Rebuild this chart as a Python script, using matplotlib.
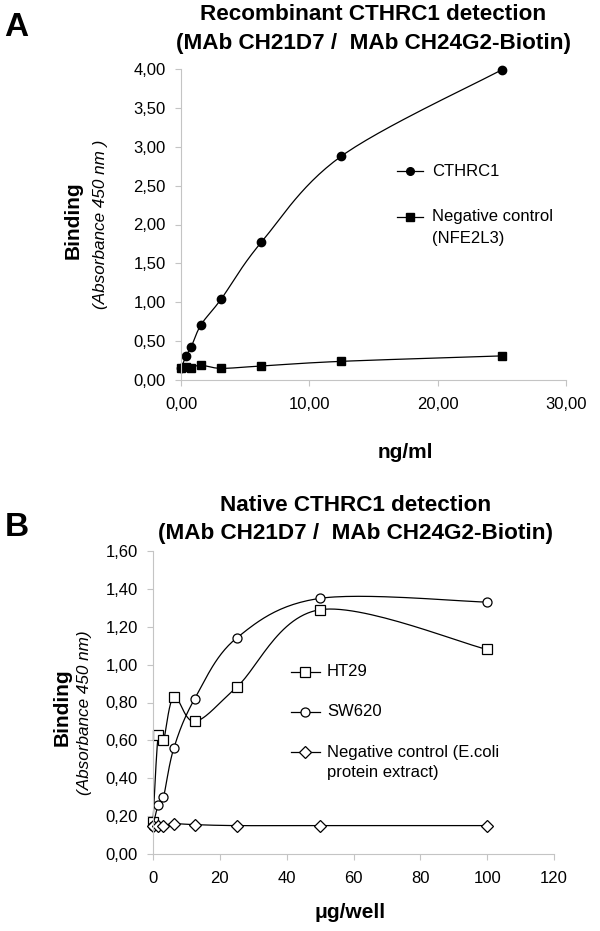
import numpy as np
import matplotlib.pyplot as plt
from matplotlib.ticker import FuncFormatter

plt.rcParams['font.family'] = ['Liberation Sans', 'DejaVu Sans']

# Panel A data (ng/ml vs absorbance)
conc_a = [0, 0.39, 0.78, 1.56, 3.125, 6.25, 12.5, 25]
cthrc1 = [0.15, 0.31, 0.42, 0.71, 1.04, 1.77, 2.88, 3.99]
neg_a = [0.15, 0.17, 0.16, 0.19, 0.15, 0.18, 0.24, 0.31]

# Panel B data (ug/well vs absorbance)
conc_b = [0, 1.5625, 3.125, 6.25, 12.5, 25, 50, 100]
ht29 = [0.17, 0.63, 0.60, 0.83, 0.70, 0.88, 1.29, 1.08]
sw620 = [0.15, 0.26, 0.30, 0.56, 0.82, 1.14, 1.35, 1.33]
neg_b = [0.15, 0.15, 0.15, 0.16, 0.155, 0.15, 0.15, 0.15]

W, H = 600, 931
fig = plt.figure(figsize=(6, 9.31), dpi=100)

GRAY = '#c4c4c4'


def smooth(x, y, xr, yr, wpx, hpx, n=30):
    # Excel-like bezier smoothing computed in pixel space
    px = (np.asarray(x, float) - xr[0]) / (xr[1] - xr[0]) * wpx
    py = (np.asarray(y, float) - yr[0]) / (yr[1] - yr[0]) * hpx
    P = np.column_stack([px, py])
    Pe = np.vstack([P[0], P, P[-1]])
    out = []
    t = np.linspace(0, 1, n)[:, None]
    for i in range(len(P) - 1):
        p0, p1 = Pe[i + 1], Pe[i + 2]
        c1 = p0 + (Pe[i + 2] - Pe[i]) / 6
        c2 = p1 - (Pe[i + 3] - Pe[i + 1]) / 6
        seg = ((1 - t) ** 3) * p0 + 3 * ((1 - t) ** 2) * t * c1 + 3 * (1 - t) * t ** 2 * c2 + t ** 3 * p1
        out.append(seg if i == 0 else seg[1:])
    out = np.vstack(out)
    sx = out[:, 0] / wpx * (xr[1] - xr[0]) + xr[0]
    sy = out[:, 1] / hpx * (yr[1] - yr[0]) + yr[0]
    return sx, sy


def style(ax):
    for s in ['top', 'right']:
        ax.spines[s].set_visible(False)
    for s in ['left', 'bottom']:
        ax.spines[s].set_color(GRAY)
        ax.spines[s].set_linewidth(0.8)
    ax.tick_params(colors=GRAY, labelcolor='black', labelsize=12, length=4, width=0.8)
    ax.tick_params(axis='y', pad=7)
    ax.tick_params(axis='x', pad=8)


def comma(dec):
    return FuncFormatter(lambda v, p: f'{v:.{dec}f}'.replace('.', ','))


TFS = 16.2  # title font size

# ---------- Panel A ----------
axA = fig.add_axes([181 / W, 1 - 380 / H, 385 / W, 311 / H])
style(axA)
xrA, yrA = (0, 30), (0, 4)
axA.set_xlim(*xrA)
axA.set_ylim(*yrA)
axA.set_xticks([0, 10, 20, 30])
axA.set_yticks(np.arange(0, 4.01, 0.5))
axA.xaxis.set_major_formatter(comma(2))
axA.yaxis.set_major_formatter(comma(2))

sx, sy = smooth(conc_a, cthrc1, xrA, yrA, 385, 311)
axA.plot(sx, sy, color='black', lw=0.9, clip_on=False)
axA.plot(conc_a, cthrc1, 'o', color='black', ms=6, clip_on=False)
sx, sy = smooth(conc_a, neg_a, xrA, yrA, 385, 311)
axA.plot(sx, sy, color='black', lw=0.9, clip_on=False)
axA.plot(conc_a, neg_a, 's', color='black', ms=6, clip_on=False)

# legend A
fig.add_artist(plt.Line2D([397 / W, 423 / W], [1 - 171 / H] * 2, color='black', lw=0.9))
fig.add_artist(plt.Line2D([410 / W], [1 - 171 / H], marker='o', color='black', ms=5.5))
fig.text(432 / W, 1 - 171 / H, 'CTHRC1', fontsize=12, va='center')
fig.add_artist(plt.Line2D([397 / W, 423 / W], [1 - 217 / H] * 2, color='black', lw=0.9))
fig.add_artist(plt.Line2D([410 / W], [1 - 217 / H], marker='s', color='black', ms=5.5))
fig.text(432 / W, 1 - 217 / H, 'Negative control', fontsize=12, va='center')
fig.text(432 / W, 1 - 238 / H, '(NFE2L3)', fontsize=12, va='center')

fig.text(373 / W, 1 - 15 / H, 'Recombinant CTHRC1 detection', fontsize=TFS,
         fontweight='bold', ha='center', va='center')
fig.text(373 / W, 1 - 43 / H, '(MAb CH21D7 /  MAb CH24G2-Biotin)', fontsize=TFS,
         fontweight='bold', ha='center', va='center')
fig.text(16 / W, 1 - 27 / H, 'A', fontsize=24, fontweight='bold', ha='center', va='center')
fig.text(73 / W, 1 - 220 / H, 'Binding', fontsize=15, fontweight='bold', rotation=90,
         ha='center', va='center')
fig.text(100 / W, 1 - 224 / H, '(Absorbance 450 nm )', fontsize=12.3, style='italic',
         rotation=90, ha='center', va='center')
fig.text(405 / W, 1 - 452 / H, 'ng/ml', fontsize=15, fontweight='bold', ha='center', va='center')

# ---------- Panel B ----------
axB = fig.add_axes([153 / W, 1 - 854 / H, 401 / W, 303 / H])
style(axB)
xrB, yrB = (0, 120), (0, 1.6)
axB.set_xlim(*xrB)
axB.set_ylim(*yrB)
axB.set_xticks(np.arange(0, 121, 20))
axB.set_yticks(np.arange(0, 1.61, 0.2))
axB.yaxis.set_major_formatter(comma(2))

for yv, mk in [(ht29, 's'), (sw620, 'o'), (neg_b, 'D')]:
    sx, sy = smooth(conc_b, yv, xrB, yrB, 401, 303)
    axB.plot(sx, sy, color='black', lw=0.9, clip_on=False)
    axB.plot(conc_b, yv, mk, mfc='white', mec='black', mew=0.9,
             ms=6.5 if mk != 'D' else 6, clip_on=False)

# legend B
for yy, mk, lab in [(672, 's', 'HT29'), (712, 'o', 'SW620'), (752, 'D', 'Negative control (E.coli')]:
    fig.add_artist(plt.Line2D([291 / W, 320 / W], [1 - yy / H] * 2, color='black', lw=0.9))
    fig.add_artist(plt.Line2D([305 / W], [1 - yy / H], marker=mk, mfc='white', mec='black',
                              mew=0.9, ms=6.5 if mk != 'D' else 6))
    fig.text(327 / W, 1 - yy / H, lab, fontsize=12, va='center')
fig.text(327 / W, 1 - 773 / H, 'protein extract)', fontsize=12, va='center')

fig.text(356 / W, 1 - 505 / H, 'Native CTHRC1 detection', fontsize=TFS,
         fontweight='bold', ha='center', va='center')
fig.text(356 / W, 1 - 533 / H, '(MAb CH21D7 /  MAb CH24G2-Biotin)', fontsize=TFS,
         fontweight='bold', ha='center', va='center')
fig.text(17 / W, 1 - 528 / H, 'B', fontsize=24, fontweight='bold', ha='center', va='center')
fig.text(62 / W, 1 - 707 / H, 'Binding', fontsize=15, fontweight='bold', rotation=90,
         ha='center', va='center')
fig.text(84 / W, 1 - 713 / H, '(Absorbance 450 nm)', fontsize=12.3, style='italic',
         rotation=90, ha='center', va='center')
fig.text(350 / W, 1 - 913 / H, '\u03bcg/well', fontsize=15, fontweight='bold', ha='center', va='center')

fig.savefig('out.png', dpi=100)
